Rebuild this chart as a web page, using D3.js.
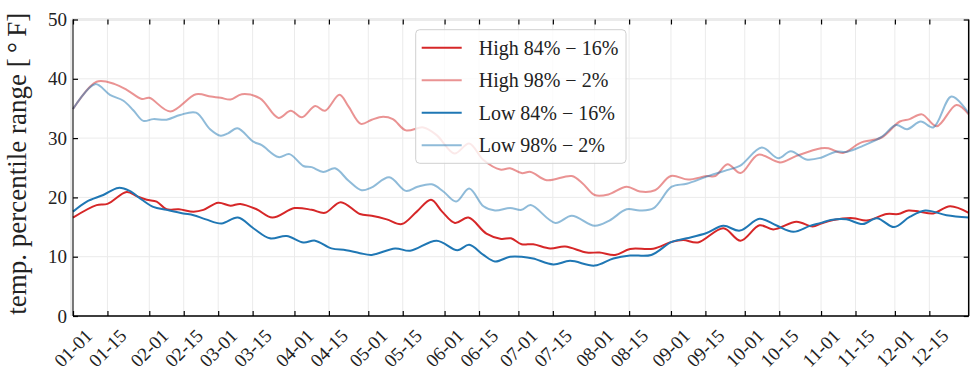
<!DOCTYPE html>
<html><head><meta charset="utf-8">
<script src="https://cdn.jsdelivr.net/npm/d3@7"></script>
<style>
body{margin:0;background:#fff;}
svg text{font-family:"Liberation Serif","DejaVu Serif",serif;fill:#222;}
</style></head>
<body><svg id="chart" width="978" height="380"></svg>
<script>
// ---- data (day of year, 0 = Jan 1) ----
const high84Days = [0,9.6,14,21.8,26,30,34,38,43,49,53,59,64,68,74.6,81,90,97,102.4,108.8,116.6,121.4,127.5,133.6,139.7,145.5,150,155.2,160.7,168,174,178,182.3,187,193.9,200,208.8,214,220.3,226.4,235.8,243.3,248,254,264.3,271.3,279,284.6,294,300.6,304,309,317,322.5,330.7,335.4,339.5,344,349.6,356.4,364];
const high84Vals = [16.6,18.7,18.9,20.9,20.2,19.6,19.3,18.0,18.0,17.6,17.9,19.1,18.6,18.9,18.0,16.6,18.2,17.9,17.4,19.2,17.2,16.9,16.3,15.5,17.6,19.6,17.6,15.7,16.6,13.9,13.0,13.1,12.1,12.1,11.4,11.7,10.7,10.7,10.3,11.3,11.35,12.5,12.8,12.4,14.8,12.7,15.3,14.6,15.9,15.1,15.6,16.2,16.5,16.1,17.2,17.2,17.8,17.6,17.3,18.5,17.4];

const high98Days = [0,9.6,17,22,28,31,39.5,50,56,60,64,68.6,76,83.5,88.5,93,98.4,102.4,108.3,112,117,121.4,126,130,135.3,142.4,147.8,155,161,166.8,173.6,177.6,182.3,186,192.5,202.7,207,212,217.6,225,230.4,236.5,243,250,257.5,261,266,271.3,278.5,287.3,294,304,307,313,320,328.6,336,340,345,351,359,364];
const high98Vals = [34.9,39.5,39.1,38.1,36.6,36.8,34.5,37.4,37.0,36.8,36.5,37.4,36.7,33.4,34.6,33.5,35.4,34.6,37.3,35.3,32.4,33.1,33.6,33.2,31.3,31.8,30.5,27.4,29.1,26.3,24.7,24.9,24.1,24.3,22.9,23.6,22.4,20.4,20.5,21.8,21.0,21.2,23.6,23.0,23.6,23.6,25.6,24.1,27.2,25.9,27.0,28.3,28.3,27.5,29.2,30.1,32.8,33.2,34.0,32.0,35.6,34.0];

const low84Days = [0,5.6,12.3,18.4,23,28,32.6,38,44.8,49,54,60.4,67,73.3,80,86.8,93.6,98.4,105,111,116.6,121.4,130.9,137,147.8,156.2,161,166.8,171.5,177.6,182.3,187,195.2,202,212,219.6,226.4,235,243.3,249.4,257.5,264.3,271,279,285.7,292.7,299.5,304,308,314.3,321,326.7,333.7,340,346.3,355,364];
const low84Vals = [17.6,19.3,20.4,21.6,21.1,19.6,18.4,17.9,17.3,17.0,16.3,15.6,16.6,14.8,13.1,13.5,12.4,12.7,11.4,11.1,10.6,10.3,11.4,11.0,12.7,11.1,12.0,10.3,9.2,10.0,10.0,9.7,8.7,9.3,8.5,9.7,10.2,10.3,12.5,13.1,14.0,15.2,14.4,16.4,15.3,14.2,15.2,15.7,16.2,16.3,15.5,16.5,15.0,16.7,17.8,17.0,16.6];

const low98Days = [0,9,15,20.5,24.5,28.6,32.6,38,43.5,50,55.7,60,63,66.8,73.3,76.7,83.5,88,93.6,97,101.7,106.5,112,117.3,121.4,128.5,135.3,140,145.8,150.5,155.7,161,166.8,171.5,177.6,182.3,186,196,202.7,212,218,225,230.4,236,243.3,249.4,257.5,265.7,271,279.9,286.6,291.7,298,304,310,314.7,321,328.6,334.5,339,344.5,349.6,357,364];
const low98Vals = [34.9,39.1,37.3,36.3,34.7,32.9,33.2,33.1,33.9,34.3,31.5,30.4,30.8,31.65,29.4,28.8,26.8,27.3,25.3,25.1,24.3,24.9,22.8,21.2,21.7,23.4,21.1,21.8,22.2,21.0,19.3,21.5,18.5,17.8,18.2,17.9,18.7,15.7,16.9,15.2,16.1,18.0,17.8,18.2,21.8,22.3,23.5,24.6,25.3,28.4,26.6,27.8,26.4,26.7,27.7,27.7,28.7,30.2,32.2,31.5,32.8,31.8,37.0,34.2];

const seriesNames = ["High 84% \u2212 16%","High 98% \u2212 2%","Low 84% \u2212 16%","Low 98% \u2212 2%"];
const seriesColors = ["#d62728","#d62728","#1f77b4","#1f77b4"];
const seriesAlpha = [1,0.5,1,0.5];
const yTicks = [0,10,20,30,40,50];
const xTickLabels = ["01-01","01-15","02-01","02-15","03-01","03-15","04-01","04-15","05-01","05-15","06-01","06-15","07-01","07-15","08-01","08-15","09-01","09-15","10-01","10-15","11-01","11-15","12-01","12-15"];
const yLabel = "temp. percentile range [\u2009\u00B0\u2009F]";

// ---- layout ----
const W = 978, H = 380;
const m = {left:73, right:9.3, top:19.5, bottom:64};
const iw = W - m.left - m.right, ih = H - m.top - m.bottom;
const YEAR = 2001;
const dayToDate = d => new Date(Date.UTC(YEAR,0,1) + d*86400000);
const parseTick = s => { const [mm,dd] = s.split("-").map(Number); return new Date(Date.UTC(YEAR,mm-1,dd)); };

const svg = d3.select("#chart");
const g = svg.append("g").attr("transform",`translate(${m.left},${m.top})`);

const x = d3.scaleUtc().domain([dayToDate(0), dayToDate(364)]).range([0, iw]);
const y = d3.scaleLinear().domain([0,50]).range([ih, 0]);
const xTickDates = xTickLabels.map(parseTick);

// grid
g.append("g").selectAll("line").data(xTickDates).join("line")
  .attr("x1",d=>x(d)).attr("x2",d=>x(d)).attr("y1",0).attr("y2",ih)
  .attr("stroke","#ebebeb").attr("stroke-width",1);
g.append("g").selectAll("line").data(yTicks).join("line")
  .attr("x1",0).attr("x2",iw).attr("y1",d=>y(d)).attr("y2",d=>y(d))
  .attr("stroke","#ebebeb").attr("stroke-width",1);
g.append("line").attr("x1",-1).attr("x2",iw).attr("y1",0).attr("y2",0)
  .attr("stroke","#ebebeb").attr("stroke-width",3);
g.append("line").attr("x1",-1.5).attr("x2",-1.5).attr("y1",0).attr("y2",ih)
  .attr("stroke","#ebebeb").attr("stroke-width",3);

// lines
const series = [
  {days:high84Days, vals:high84Vals},
  {days:high98Days, vals:high98Vals},
  {days:low84Days, vals:low84Vals},
  {days:low98Days, vals:low98Vals}
];
const line = d3.line().x(d=>x(dayToDate(d[0]))).y(d=>y(d[1])).curve(d3.curveCatmullRom.alpha(0.5));
series.forEach((s,i)=>{
  g.append("path").datum(s.days.map((d,k)=>[d,s.vals[k]]))
    .attr("fill","none").attr("stroke",seriesColors[i]).attr("stroke-opacity",seriesAlpha[i])
    .attr("stroke-width",2).attr("d",line);
});

// spines
g.append("line").attr("x1",0).attr("x2",0).attr("y1",0).attr("y2",ih).attr("stroke","#000").attr("stroke-width",1);
g.append("line").attr("x1",0).attr("x2",iw).attr("y1",ih).attr("y2",ih).attr("stroke","#000").attr("stroke-width",1.5);
g.append("line").attr("x1",iw).attr("x2",iw).attr("y1",0).attr("y2",ih).attr("stroke","#000").attr("stroke-width",1.5);

// axes (ticks inward)
const xb = d3.axisBottom(x).tickValues(xTickDates).tickSize(-5).tickFormat("");
const xt = d3.axisTop(x).tickValues(xTickDates).tickSize(-5).tickFormat("");
const yl = d3.axisLeft(y).tickValues(yTicks).tickSize(-5).tickFormat("");
const yr = d3.axisRight(y).tickValues(yTicks).tickSize(-5).tickFormat("");
[[xb,`translate(0,${ih})`],[xt,"translate(0,0)"],[yl,"translate(0,0)"],[yr,`translate(${iw},0)`]].forEach(([a,t])=>{
  const ax = g.append("g").attr("transform",t).call(a);
  ax.select(".domain").remove();
  ax.selectAll(".tick line").attr("stroke","#000").attr("stroke-width",1.2);
});

// tick labels
g.append("g").selectAll("text").data(yTicks).join("text")
  .attr("x",-6).attr("y",d=>y(d)).attr("dy","0.35em").attr("text-anchor","end")
  .attr("font-size",19).text(d=>d);
g.append("g").selectAll("text").data(xTickDates).join("text")
  .attr("transform",d=>`translate(${x(d)},${ih+32}) rotate(-45)`)
  .attr("text-anchor","middle").attr("dy","0.35em").attr("font-size",19)
  .text((d,i)=>xTickLabels[i]);

// y label
svg.append("text").attr("transform",`translate(17,${m.top+ih/2-4}) rotate(-90)`)
  .attr("text-anchor","middle").attr("dy","0.35em").attr("font-size",27).text(yLabel);

// legend
const lg = svg.append("g").attr("transform","translate(415.7,29.7)");
lg.append("rect").attr("width",210.3).attr("height",133.6).attr("rx",4)
  .attr("fill","#fff").attr("fill-opacity",0.8).attr("stroke","#d0d0d0").attr("stroke-width",1);
seriesNames.forEach((nm,i)=>{
  const yy = 18 + i*32.5;
  lg.append("line").attr("x1",6).attr("x2",46).attr("y1",yy).attr("y2",yy)
    .attr("stroke",seriesColors[i]).attr("stroke-opacity",seriesAlpha[i]).attr("stroke-width",2);
  lg.append("text").attr("x",63).attr("y",yy).attr("dy","0.35em").attr("font-size",20).text(nm);
});
</script></body></html>
